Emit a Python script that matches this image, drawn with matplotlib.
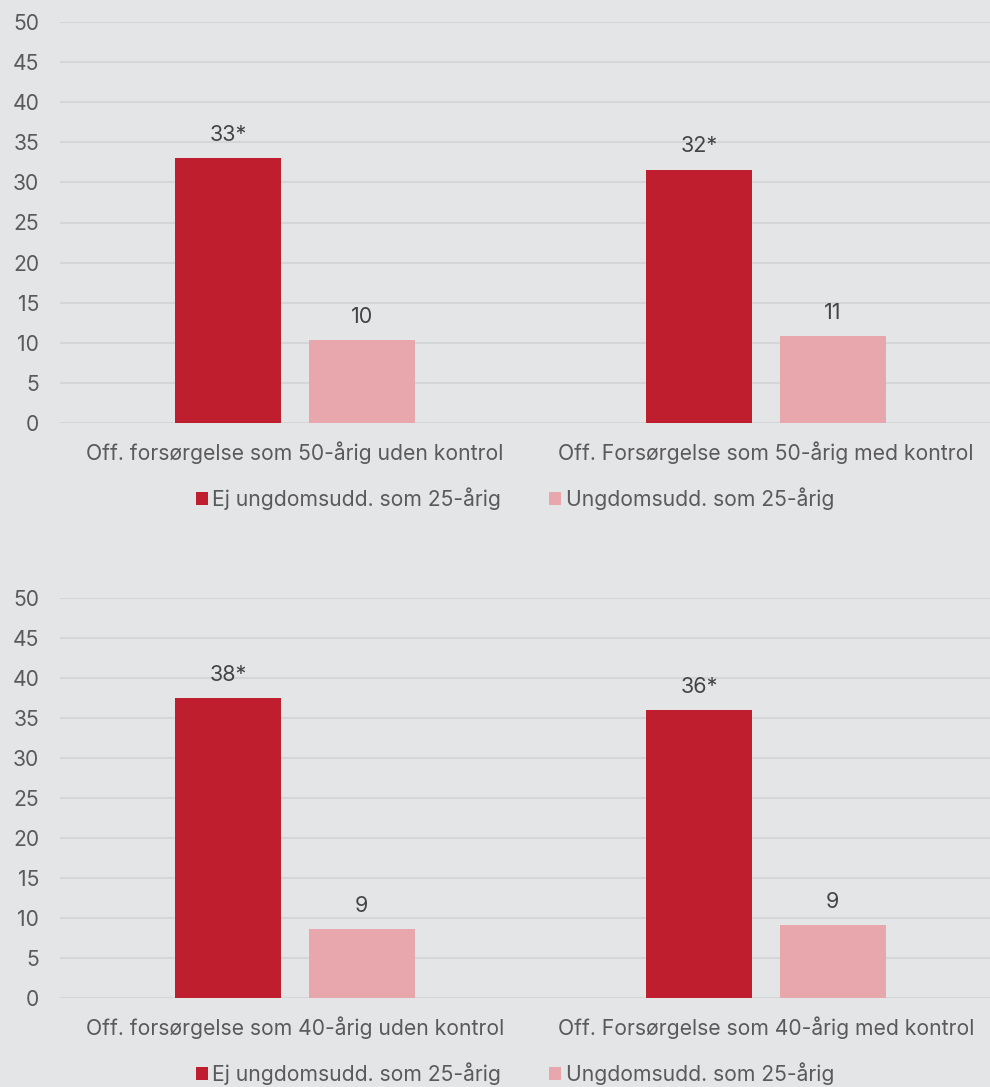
import matplotlib.pyplot as plt
import numpy as np
from matplotlib.patches import Patch

plt.rcParams['font.family'] = ['Inter', 'DejaVu Sans']

series_names = ["Ej ungdomsudd. som 25-årig", "Ungdomsudd. som 25-årig"]
colors = ["#be1e2d", "#e8a7ac"]

top_categories = ["Off. forsørgelse som 50-årig uden kontrol",
                  "Off. Forsørgelse som 50-årig med kontrol"]
top_no_edu = [33.0, 31.6]
top_edu = [10.3, 10.8]
top_labels_no_edu = ["33*", "32*"]
top_labels_edu = ["10", "11"]

bottom_categories = ["Off. forsørgelse som 40-årig uden kontrol",
                     "Off. Forsørgelse som 40-årig med kontrol"]
bottom_no_edu = [37.5, 36.0]
bottom_edu = [8.6, 9.1]
bottom_labels_no_edu = ["38*", "36*"]
bottom_labels_edu = ["9", "9"]

yticks = [0, 5, 10, 15, 20, 25, 30, 35, 40, 45, 50]

W, H = 990, 1087
bg = "#e4e5e7"
grid_c = "#d5d6d8"
tick_c = "#5a5a5a"
val_c = "#444444"
fs = 15.2

fig = plt.figure(figsize=(W / 100, H / 100), dpi=100, facecolor=bg)


def panel(y_top, y_bot, cats, v1, v2, l1, l2, legend_y):
    left, right = 60, 990
    ax = fig.add_axes([left / W, 1 - y_bot / H, (right - left) / W, (y_bot - y_top) / H])
    ax.set_facecolor(bg)
    x = np.arange(len(cats))
    bw = 0.225
    off = 0.142
    b1 = ax.bar(x - off, v1, bw, color=colors[0], zorder=3)
    b2 = ax.bar(x + off, v2, bw, color=colors[1], zorder=3)
    for bars, labels in ((b1, l1), (b2, l2)):
        for rect, lab in zip(bars, labels):
            ax.text(rect.get_x() + rect.get_width() / 2, rect.get_height() + 1.65, lab,
                    ha="center", va="bottom", fontsize=15.5, color=val_c)
    ax.set_ylim(0, 50)
    ax.set_xlim(-0.499, 1.476)
    ax.set_yticks(yticks)
    ax.set_xticks(x)
    ax.set_xticklabels(cats)
    ax.tick_params(axis="y", length=0, pad=15, labelsize=fs, labelcolor=tick_c)
    ax.tick_params(axis="x", length=0, pad=13, labelsize=fs, labelcolor=tick_c)
    ax.grid(axis="y", color=grid_c, linewidth=1.5, zorder=0)
    for s in ax.spines.values():
        s.set_visible(False)
    handles = [Patch(facecolor=c, edgecolor="none") for c in colors]
    fig.legend(handles, series_names, loc="center", bbox_to_anchor=(0.52, 1 - legend_y / H),
               ncol=2, frameon=False, fontsize=fs, labelcolor=tick_c,
               handlelength=0.57, handleheight=0.57, handletextpad=0.2, columnspacing=2.3)
    return ax


panel(22, 423, top_categories, top_no_edu, top_edu, top_labels_no_edu, top_labels_edu, 499)
panel(598, 998, bottom_categories, bottom_no_edu, bottom_edu, bottom_labels_no_edu, bottom_labels_edu, 1074)

fig.savefig("out.png", dpi=100, facecolor=bg)
